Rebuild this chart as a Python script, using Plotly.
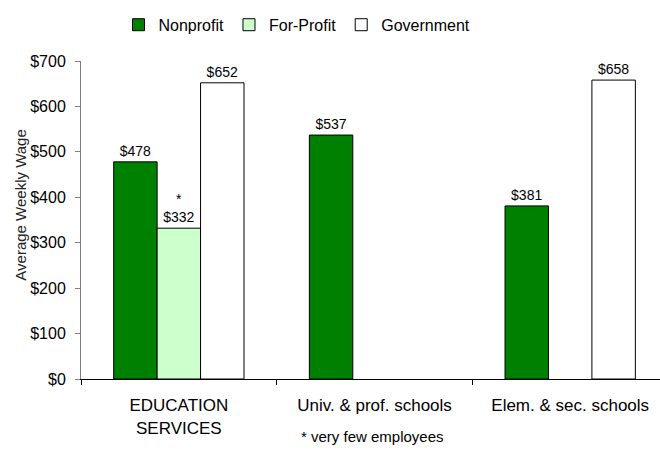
import plotly.graph_objects as go

# data
categories = ["EDUCATION<br>SERVICES", "Univ. & prof. schools", "Elem. & sec. schools"]
nonprofit = [478, 537, 381]
forprofit = [332, None, None]
government = [652, None, 658]
forprofit_note = ["*", "", ""]   # very few employees


def money(vals, notes=None):
    out = []
    for i, v in enumerate(vals):
        if v is None:
            out.append("")
            continue
        t = f"${v}"
        if notes and notes[i]:
            t = notes[i] + "<br>" + t
        out.append(t)
    return out


FONT = "Liberation Sans, Arial, sans-serif"
bar_line = dict(color="black", width=1)
lbl_font = dict(family=FONT, size=14, color="black")

fig = go.Figure()
fig.add_trace(go.Bar(
    name="Nonprofit", x=categories, y=nonprofit,
    marker=dict(color="#008000", line=bar_line),
    text=money(nonprofit), textposition="outside", textfont=lbl_font,
    cliponaxis=False,
))
fig.add_trace(go.Bar(
    name="For-Profit", x=categories, y=forprofit,
    marker=dict(color="#CCFFCC", line=bar_line),
    text=money(forprofit, forprofit_note), textposition="outside", textfont=lbl_font,
    cliponaxis=False,
))
fig.add_trace(go.Bar(
    name="Government", x=categories, y=government,
    marker=dict(color="white", line=bar_line),
    text=money(government), textposition="outside", textfont=lbl_font,
    cliponaxis=False,
))

fig.update_layout(
    width=660, height=451,
    margin=dict(l=81, r=0, t=61, b=72, autoexpand=False),
    paper_bgcolor="white", plot_bgcolor="white",
    font=dict(family=FONT, size=15, color="black"),
    barmode="group", bargap=0.334, bargroupgap=0,
    showlegend=True,
    legend=dict(
        orientation="h", xref="container", yref="container",
        x=0.45, xanchor="center", y=0.945, yanchor="middle",
        font=dict(family=FONT, size=16, color="black"),
        itemwidth=30, tracegroupgap=0,
    ),
    xaxis=dict(
        type="category", range=[-0.5, 2.459], automargin=False,
        showline=True, linecolor="black", linewidth=1,
        ticks="outside", tickson="boundaries", ticklen=5, tickcolor="black",
        ticklabelstandoff=11,
        tickfont=dict(family=FONT, size=17, color="black"),
        showgrid=False, zeroline=False, fixedrange=True,
    ),
    yaxis=dict(
        range=[0, 700], dtick=100, tickprefix="$", automargin=False,
        showline=True, linecolor="#808080", linewidth=1,
        ticks="outside", ticklen=5, tickcolor="#808080",
        ticklabelstandoff=6,
        tickfont=dict(family=FONT, size=16, color="black"),
        showgrid=False, zeroline=False,
    ),
    annotations=[
        dict(text="Average Weekly Wage", textangle=-90, xref="paper", yref="paper",
             x=-0.106, y=0.547, xanchor="center", yanchor="middle", showarrow=False,
             font=dict(family=FONT, size=15, color="#222")),
        dict(text="* very few employees", xref="paper", yref="paper",
             x=0.503, y=-0.182, xanchor="center", yanchor="middle", showarrow=False,
             font=dict(family=FONT, size=15, color="black")),
    ],
)

# page body has a default 8px margin; drop it so the figure sits at (0,0)
fig.write_html("out.html", config={"displayModeBar": False},
               post_script="document.body.style.margin='0';")
